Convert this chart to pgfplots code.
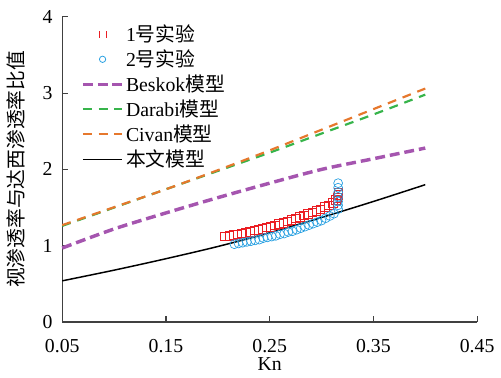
\documentclass[border=0pt]{standalone}
\usepackage{pgfplots}
\pgfplotsset{compat=1.18}
\usepackage{fontspec}
\setmainfont{Liberation Serif}
\newfontfamily\cjk{Noto Sans CJK SC}
\definecolor{cred}{RGB}{235,30,35}
\definecolor{cblue}{RGB}{40,160,225}
\definecolor{cpurple}{RGB}{165,85,175}
\definecolor{cgreen}{RGB}{55,180,75}
\definecolor{corange}{RGB}{230,120,45}
\pgfplotsset{
  linelegend/.style={legend image code/.code={\draw[##1] (0pt,0pt) -- (40pt,0pt);}},
}
\begin{document}
\fontsize{20}{24}\selectfont
\begin{tikzpicture}
\begin{axis}[
  scale only axis, width=420pt, height=309pt,
  xmin=0.05, xmax=0.45, ymin=0, ymax=4,
  axis lines*=left, tick align=inside,
  axis line style={line width=1.2pt, black!75},
  major tick style={line width=1.2pt, black!75},
  major tick length=6pt,
  xtick={0.05,0.15,0.25,0.35,0.45},
  xticklabels={0.05,0.15,0.25,0.35,0.45},
  ytick={0,1,2,3,4},
  /pgf/number format/assume math mode=true,
  tick label style={font=\fontsize{20}{24}\selectfont},
  xticklabel style={yshift=-11pt},
  yticklabel style={xshift=-3pt},
  xlabel={Kn},
  ylabel={\cjk 视渗透率与达西渗透率比值},
  label style={font=\fontsize{20}{24}\selectfont},
  xlabel style={at={(axis description cs:0.5,-0.138)}, anchor=center},
  ylabel style={at={(axis description cs:-0.112,0.5)}, anchor=center},
  legend style={at={(axis description cs:0.045,1.01)}, anchor=north west, draw=none, fill=none,
    font=\fontsize{20}{24}\selectfont, row sep=1.5pt, inner sep=0pt,
    nodes={inner sep=2pt, anchor=west}},
  legend cell align=left,
  clip=false,
]
\addlegendimage{empty legend}
\addlegendentry{}
\addlegendimage{legend image code/.code={\fill[cred] (16.6pt,-3.4pt) rectangle (23.4pt,3.4pt);\fill[white] (17.4pt,-2.6pt) rectangle (22.6pt,2.6pt);}}
\addlegendentry{1{\cjk 号实验}}
\addlegendimage{legend image code/.code={\draw[draw=cblue, line width=0.8pt] (20pt,0pt) circle (3.2pt);}}
\addlegendentry{2{\cjk 号实验}}
\addplot[only marks, mark=square, mark size=4.3pt, color=cred, mark options={line width=0.7pt}, forget plot]
coordinates {
(0.207,1.12)(0.211,1.13)(0.215,1.14)(0.219,1.15)(0.223,1.16)(0.227,1.17)(0.231,1.18)
(0.235,1.20)(0.239,1.21)(0.243,1.22)(0.247,1.24)(0.251,1.25)(0.255,1.27)(0.259,1.29)
(0.263,1.30)(0.267,1.32)(0.271,1.34)(0.275,1.36)(0.279,1.38)(0.283,1.40)(0.287,1.42)
(0.291,1.44)(0.295,1.46)(0.299,1.48)(0.303,1.51)(0.307,1.53)(0.311,1.56)(0.314,1.60)
(0.315,1.63)(0.316,1.67)(0.316,1.70)
};
\addplot[only marks, mark=o, mark size=4.5pt, color=cblue, mark options={line width=0.7pt}, forget plot]
coordinates {
(0.216,1.02)(0.220,1.03)(0.224,1.04)(0.228,1.05)(0.232,1.06)(0.236,1.07)(0.240,1.08)
(0.244,1.10)(0.248,1.11)(0.252,1.12)(0.256,1.13)(0.260,1.15)(0.264,1.16)(0.268,1.18)
(0.272,1.19)(0.276,1.21)(0.280,1.23)(0.284,1.25)(0.288,1.27)(0.292,1.29)(0.296,1.31)
(0.300,1.33)(0.304,1.36)(0.308,1.39)(0.312,1.42)(0.316,1.48)(0.316,1.53)(0.316,1.58)
(0.316,1.64)(0.316,1.70)(0.316,1.76)(0.316,1.82)
};
\addplot[cpurple, line width=3.5pt, dash pattern=on 10pt off 5pt, smooth, linelegend]
coordinates {
(0.05,0.97)(0.10,1.22)(0.15,1.43)(0.20,1.63)(0.25,1.82)(0.30,2.00)(0.35,2.14)(0.40,2.28)
};
\addlegendentry{Beskok{\cjk 模型}}
\addplot[cgreen, line width=2.2pt, dash pattern=on 9pt off 7pt, smooth, linelegend]
coordinates {
(0.05,1.26)(0.10,1.50)(0.15,1.74)(0.20,1.98)(0.25,2.22)(0.30,2.47)(0.35,2.72)(0.40,2.98)
};
\addlegendentry{Darabi{\cjk 模型}}
\addplot[corange, line width=2.2pt, dash pattern=on 9pt off 7pt, smooth, linelegend]
coordinates {
(0.05,1.27)(0.10,1.505)(0.15,1.74)(0.20,1.99)(0.25,2.25)(0.30,2.52)(0.35,2.79)(0.40,3.06)
};
\addlegendentry{Civan{\cjk 模型}}
\addplot[black, line width=1.5pt, smooth, linelegend]
coordinates {
(0.05,0.54)(0.10,0.68)(0.15,0.83)(0.20,0.99)(0.25,1.17)(0.30,1.37)(0.35,1.58)(0.40,1.80)
};
\addlegendentry{\cjk 本文模型}
\end{axis}
\path[use as bounding box] (-61pt,-46pt) rectangle (440pt,326pt);
\end{tikzpicture}
\end{document}
